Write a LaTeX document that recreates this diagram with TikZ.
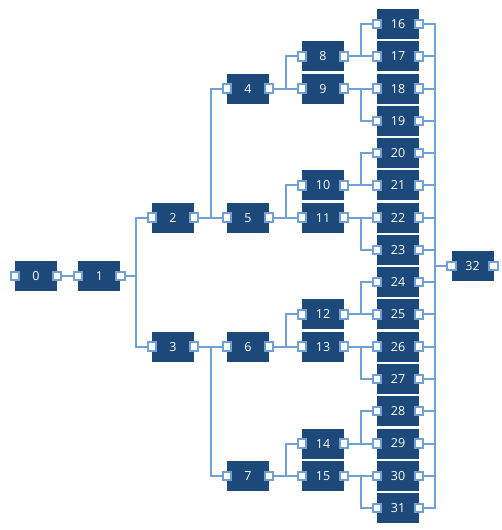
\documentclass[tikz,border=0pt]{standalone}
\usepackage{fontspec}
\setsansfont{Open Sans}
\usepackage{tikz}
\usetikzlibrary{calc,positioning}
\definecolor{navy}{RGB}{28,72,122}
\definecolor{sky}{RGB}{112,160,212}

\begin{document}
\begin{tikzpicture}[x=1pt, y=-1pt,
			boxStyle/.style={fill=navy, text=white, font=\sffamily\fontsize{12.5}{12.5}\selectfont, minimum width=42pt, minimum height=30pt, inner sep=0pt},
			portStyle/.style={draw=sky, fill=white, line width=2pt, minimum size=8.5pt, inner sep=0pt},
			linkStyle/.style={draw=sky, line width=2pt},]
			
			\useasboundingbox (0,0) rectangle (502,530);
			
			\begin{scope}[every node/.style={boxStyle}]
				\node at (36,276) (b0) {0};
				\node[right=21pt of b0] (b1) {1};
				
				\foreach \value in {16,...,31}
				\node at (398,{24+32.27*(\value-16)}) (b\value) {\value};
				
				\foreach \value/\row in {8/17, 9/18, 10/21, 11/22, 12/25, 13/26, 14/29, 15/30}
				\node at (323,0 |- b\row) (b\value) {\value};
				\foreach \value/\row in {4/9, 5/11, 6/13, 7/15}
				\node at (248,0 |- b\row) (b\value) {\value};
				\foreach \value/\row in {2/5, 3/6}
				\node at (173,0 |- b\row) (b\value) {\value};
				
				\node at (472.5,266) (b32) {32};
			\end{scope}
			
			%%%%%%%%%%%
			\foreach \value in {0,...,32}{
				\node[portStyle] at (b\value.west) (b\value l) {};
				\node[portStyle] at (b\value.east) (b\value r) {};
			}
			
			\draw[linkStyle] (b0r.east) -- (b1l.west);
			
			\foreach \value [evaluate=\value as \up using int(2*\value), evaluate=\value as \down using int(2*\value+1)] in {1,...,15}{
				\draw[linkStyle] (b\value r.east) -| ($(b\value r)!.5!(b\up l)$) |- (b\up l.west);
				\draw[linkStyle] (b\value r.east) -| ($(b\value r)!.5!(b\down l)$) |- (b\down l.west);
			}
			
			\foreach \value in {16,...,31}
			\draw[linkStyle] (b\value r.east) -| ($(b\value r)!.5!(b32l)$) |- (b32l.west);
		\end{tikzpicture}
\end{document}
